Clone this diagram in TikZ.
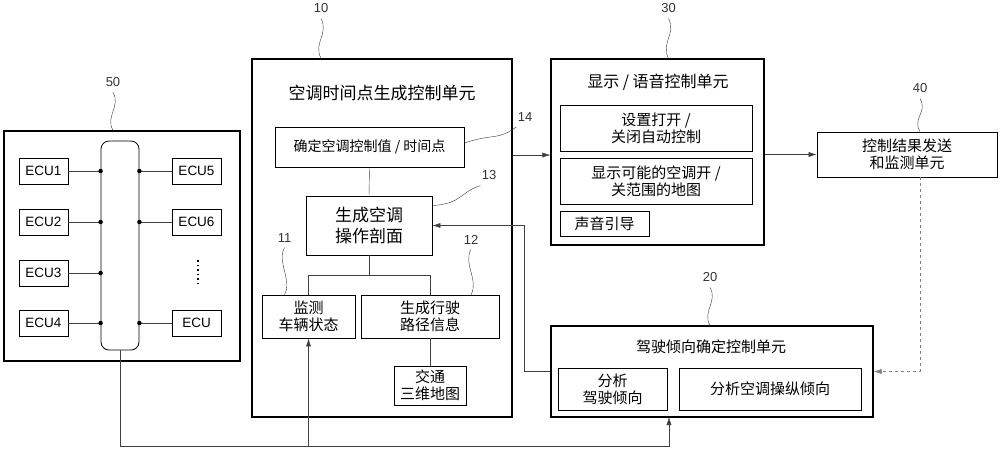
\documentclass[tikz,border=0pt]{standalone}
\usepackage{fontspec}
\setmainfont{Liberation Sans}
\newfontfamily\cjk{Noto Sans CJK SC}
\usetikzlibrary{arrows.meta, positioning}

\begin{document}
\begin{tikzpicture}
    [
        x=1pt, y=-1pt, >={Latex[length=8pt,width=5pt]},
        box/.style={draw, thick, inner sep=0pt, font=\cjk\fontsize{14}{16}\selectfont, align=center},
        ubox/.style={draw, very thick, inner sep=0pt},
        ecu/.style={draw, thick, minimum width=49, minimum height=26, font=\fontsize{13.5}{15}\selectfont},
        title/.style={font=\cjk\fontsize{17}{19}\selectfont},
        num/.style={font=\fontsize{13}{15}\selectfont},
        arr/.style={draw, gray!50!black, ->},
        wire/.style={draw, gray!50!black}
    ]
    \tikzstyle{leader} = [draw, gray!40!black]
    \tikzstyle{branch} = [fill, shape=circle, minimum size=4.5pt, inner sep=0pt]
    \useasboundingbox (0,0) rectangle (1000,451);

    % ECU unit
    \node[ubox, minimum width=236, minimum height=230] (u50) at (122,246) {};
    \node[draw, thick, rounded corners=8, minimum width=38, minimum height=209] (bus) at (120,245.5) {};
    \node[ecu] (ecu1) at (43.5,171) {ECU1};
    \node[ecu] (ecu2) at (43.5,222) {ECU2};
    \node[ecu] (ecu3) at (43.5,273) {ECU3};
    \node[ecu] (ecu4) at (43.5,323) {ECU4};
    \node[ecu] (ecu5) at (196.5,171) {ECU5};
    \node[ecu] (ecu6) at (196.5,222) {ECU6};
    \node[ecu] (ecun) at (196.5,323) {ECU};
    \draw[line width=1.4pt, dash pattern=on 1.5pt off 3pt] (198,260) -- (198,283);
    \foreach \e in {ecu1, ecu2, ecu3, ecu4} {
        \path[wire] (\e.east) -- (bus.west |- \e);
        \node[branch] at (bus.west |- \e) {};
    }
    \foreach \e in {ecu5, ecu6, ecun} {
        \path[wire] (\e.west) -- (bus.east |- \e);
        \node[branch] at (bus.east |- \e) {};
    }

    % timing control unit
    \node[ubox, minimum width=260, minimum height=358] (u10) at (382,238) {};
    \node[title] at (382,93) {空调时间点生成控制单元};
    \node[box, minimum width=189, minimum height=40] (u14) at (369.5,147) {确定空调控制值 / 时间点};
    \node[box, minimum width=126, minimum height=59, font=\cjk\fontsize{17}{21}\selectfont] (u13) at (369,225.5) {生成空调\\操作剖面};
    \node[box, minimum width=93, minimum height=43, font=\cjk\fontsize{15}{17}\selectfont] (u11) at (308.5,316.5) {监测\\车辆状态};
    \node[box, minimum width=138, minimum height=43, font=\cjk\fontsize{15}{17}\selectfont] (u12) at (430,316.5) {生成行驶\\路径信息};
    \node[box, minimum width=72, minimum height=39, font=\cjk\fontsize{15}{17}\selectfont] (map) at (430,385.5) {交通\\三维地图};
    \path[wire] (u14.south) -- (u13.north);
    \path[wire] (u13.south) -- ++(0,20) coordinate (j);
    \path[wire] (u11.north) |- (j) -| (u12.north);
    \path[wire] (u12.south) -- (map.north);

    % display / voice unit
    \node[ubox, minimum width=213, minimum height=186] (u30) at (657.5,152) {};
    \node[title, font=\cjk\fontsize{16}{18}\selectfont] at (658,82) {显示 / 语音控制单元};
    \node[box, minimum width=192, minimum height=46, font=\cjk\fontsize{15}{17}\selectfont] (s1) at (656,128) {设置打开 /\\关闭自动控制};
    \node[box, minimum width=192, minimum height=46, font=\cjk\fontsize{15}{17}\selectfont] (s2) at (656,181) {显示可能的空调开 /\\关范围的地图};
    \node[box, minimum width=89, minimum height=25, font=\cjk\fontsize{15}{17}\selectfont] (s3) at (604.5,223.5) {声音引导};

    % result unit
    \node[ubox, thick, minimum width=180, minimum height=45, font=\cjk\fontsize{15}{17}\selectfont, align=center] (u40) at (907,154.5) {控制结果发送\\和监测单元};

    % driving tendency unit
    \node[ubox, minimum width=322, minimum height=91] (u20) at (712,371.5) {};
    \node[title, font=\cjk\fontsize{15}{17}\selectfont] at (711,347) {驾驶倾向确定控制单元};
    \node[box, minimum width=109, minimum height=42, font=\cjk\fontsize{15}{17}\selectfont] (a1) at (612.5,389) {分析\\驾驶倾向};
    \node[box, minimum width=182, minimum height=42, font=\cjk\fontsize{15}{17}\selectfont] (a2) at (770,389) {分析空调操纵倾向};

    % connectors
    \path[arr] (u10.east |- u30) ++(0,3) coordinate (o10) -- (o10 -| u30.west);
    \path[arr] (u30.east |- u40) -- (u40.west);
    \path[arr, dashed, gray] ([xshift=13]u40.south) |- (u20.east);
    \path[arr] (u20.west) -- ++(-26,0) |- (u13.east);
    \coordinate (bot) at (0,446);
    \coordinate (in20) at (669,417);
    \path[arr] (bus.south) |- (bot -| in20) -- (in20);
    \path[arr] (bot -| u11.south) -- (u11.south);

    % reference numbers
    \path[leader] (u50.north) ++(-9,0) .. controls +(-8,-14) and +(8,14) .. +(0,-38) node[num, above=-2] {50};
    \path[leader] (u10.north) ++(-61,0) .. controls +(-8,-16) and +(8,16) .. +(0,-40) node[num, above=-2] {10};
    \path[leader] (u30.north) ++(11,0) .. controls +(-8,-16) and +(8,16) .. +(0,-40) node[num, above=-2] {30};
    \path[leader] ([xshift=13]u40.north) .. controls +(-8,-14) and +(8,14) .. +(0,-33) node[num, above=-2] {40};
    \path[leader] (u20.north) ++(-2,0) .. controls +(-8,-14) and +(8,14) .. +(0,-38) node[num, above=-2] {20};
    \path[leader] (u11.north) ++(-24,0) .. controls +(8,-14) and +(-8,14) .. +(0,-47) node[num, above=-2] {11};
    \path[leader] (u12.north) ++(41,0) .. controls +(8,-14) and +(-8,14) .. +(0,-45) node[num, above=-2] {12};
    \path[leader] (u13.north east) ++(0,10) .. controls +(30,-2) and +(-20,6) .. +(48,-20) node[num, above right=-3] {13};
    \path[leader] (u14.east) ++(0,-4) .. controls +(30,-10) and +(-20,14) .. +(52,-16) node[num, above right=-3] {14};
\end{tikzpicture}
\end{document}
